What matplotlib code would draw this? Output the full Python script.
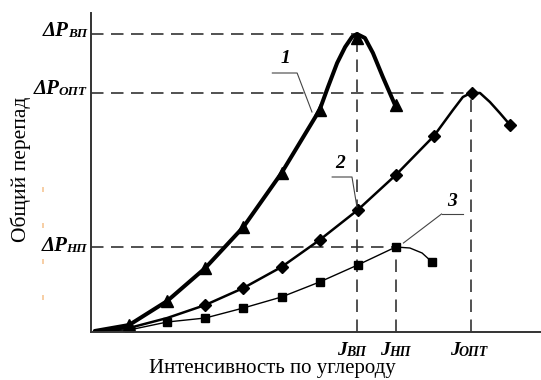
import matplotlib
matplotlib.use('Agg')
import matplotlib.pyplot as plt
from matplotlib.lines import Line2D

plt.rcParams['font.family'] = ['Liberation Serif', 'DejaVu Serif']

# Curve 1 (triangles) - marker points and the smooth line through them
c1_x = [1, 2, 3, 4, 5, 6, 6.98, 8]
c1_y = [0.7, 3.1, 6.4, 10.5, 15.9, 22.2, 29.4, 22.7]
c1_line_x = [0.1, 1, 2, 3, 4, 5, 6, 6.22, 6.46, 6.67, 6.85, 6.98, 7.19, 7.4, 7.66, 7.98]
c1_line_y = [0.1, 0.7, 3.1, 6.4, 10.5, 15.9, 22.2, 24.5, 26.9, 28.5, 29.5, 29.8, 29.4, 27.9, 25.5, 22.7]

# Curve 2 (diamonds)
c2_x = [1, 3, 4, 5, 6, 7, 8, 9, 10, 11]
c2_y = [0.4, 2.7, 4.4, 6.5, 9.2, 12.2, 15.7, 19.6, 23.9, 20.7]
c2_line_x = [0.1, 1, 2, 3, 4, 5, 6, 7, 8, 9, 9.5, 9.76, 9.97, 10.21, 10.47, 10.73, 11]
c2_line_y = [0.1, 0.4, 1.4, 2.7, 4.4, 6.5, 9.2, 12.2, 15.7, 19.6, 22.2, 23.5, 23.9, 23.9, 23.0, 21.9, 20.7]

# Curve 3 (squares)
c3_x = [1, 2, 3, 4, 5, 6, 7, 8, 8.95]
c3_y = [0.2, 1.0, 1.4, 2.4, 3.5, 5.0, 6.7, 8.5, 7.0]
c3_line_x = [0.1, 1, 2, 3, 4, 5, 6, 7, 8, 8.37, 8.69, 8.95]
c3_line_y = [0.1, 0.2, 1.0, 1.4, 2.4, 3.5, 5.0, 6.7, 8.5, 8.4, 7.9, 7.0]

# Characteristic levels (peaks) and their labels
dp_levels = [29.8, 23.9, 8.5]
dp_ends = [6.98, 9.97, 8]
dp_subs = ['ВП', 'ОПТ', 'НП']
j_pos = [6.98, 8, 9.97]
j_tops = [29.8, 8.5, 23.9]
j_subs = ['ВП', 'НП', 'ОПТ']

W, H = 541, 380
fig = plt.figure(figsize=(W / 100, H / 100), dpi=100)
ax = fig.add_axes([91 / W, 48 / H, 450 / W, 319 / H])
ax.set_xlim(0, 450 / 38.1)
ax.set_ylim(0, 31.9)

for s in ['top', 'right']:
    ax.spines[s].set_visible(False)
for s in ['left', 'bottom']:
    ax.spines[s].set_linewidth(1.4)
    ax.spines[s].set_color('#333333')
ax.set_xticks([])
ax.set_yticks([])

dash = dict(color='#333333', lw=1.2, dashes=(7.5, 4.5))
for lv, xe in zip(dp_levels, dp_ends):
    ax.plot([0, xe], [lv, lv], **dash)
for xp, yt in zip(j_pos, j_tops):
    ax.plot([xp, xp], [0, yt], **dash)

ax.plot(c1_line_x, c1_line_y, color='black', lw=2.9, solid_capstyle='round', solid_joinstyle='round')
ax.plot(c1_x, c1_y, ls='none', marker='^', ms=9, color='black')
ax.plot(c2_line_x, c2_line_y, color='black', lw=1.8, solid_joinstyle='round')
ax.plot(c2_x, c2_y, ls='none', marker='D', ms=6.5, color='black')
ax.plot(c3_line_x, c3_line_y, color='black', lw=1.0)
ax.plot(c3_x, c3_y, ls='none', marker='s', ms=6, color='black')

ax.set_ylabel('Общий перепад', fontsize=15.5)
ax.yaxis.set_label_coords(-0.133, 0.51)
ax.set_xlabel('Интенсивность по углероду', fontsize=15)
ax.xaxis.set_label_coords(0.402, -0.085)

# labels with subscripts, placed in figure pixels (baseline, from top)
rend = fig.canvas.get_renderer()


def sub_text(x, y, main, sub, size, sub_size, align):
    style = dict(fontweight='bold', fontstyle='italic', va='baseline', ha='left')
    t1 = fig.text(0, 0, main, fontsize=size, **style)
    t2 = fig.text(0, 0, sub, fontsize=sub_size, **style)
    w1 = t1.get_window_extent(rend).width
    w2 = t2.get_window_extent(rend).width
    left = x - w1 - w2 if align == 'right' else x
    t1.set_position((left / W, (H - y) / H))
    t2.set_position(((left + w1 - 1) / W, (H - y - 1) / H))


for sub, yb in zip(dp_subs, [36, 94, 251]):
    sub_text(88, yb, 'ΔP', sub, 15, 9.5, 'right')
for sub, xl in zip(j_subs, [337, 380, 450]):
    sub_text(xl, 355, 'J', sub, 14, 10, 'left')

# curve numbers with leader lines
lead = dict(color='#444444', lw=0.8, clip_on=False)
ax.plot([4.76, 5.41, 5.8], [25.9, 25.9, 22.0], **lead)
ax.text(5.1, 26.5, '1', fontsize=14, fontweight='bold', fontstyle='italic', ha='center', va='bottom')
ax.plot([6.33, 6.85, 6.98], [15.5, 15.5, 12.5], **lead)
ax.text(6.55, 16.0, '2', fontsize=14, fontweight='bold', fontstyle='italic', ha='center', va='bottom')
ax.plot([9.2, 8.2], [11.8, 8.9], **lead)
ax.plot([9.2, 9.76], [11.8, 11.8], **lead)
ax.text(9.48, 12.2, '3', fontsize=14, fontweight='bold', fontstyle='italic', ha='center', va='bottom')

# faint orange scan marks left of the axis
fig.add_artist(Line2D([43 / W, 43 / W], [(H - 300) / H, (H - 186) / H], color='#f3b77a',
                      lw=1.2, dashes=(3, 18.6), alpha=0.8))

fig.savefig('out.png', dpi=100)
